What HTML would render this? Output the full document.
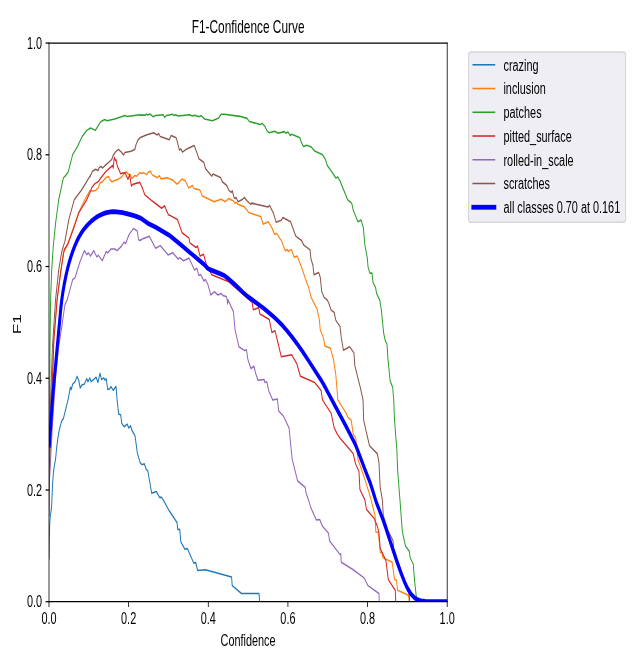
<!DOCTYPE html>
<html><head><meta charset="utf-8"><title>F1-Confidence Curve</title>
<style>html,body{margin:0;padding:0;background:#fff;overflow:hidden}svg{display:block}</style></head>
<body>
<svg width="642" height="669" viewBox="0 0 648 432" preserveAspectRatio="none" version="1.1">
 
 <defs>
  <style type="text/css">*{stroke-linejoin: round; stroke-linecap: butt}</style>
 </defs>
 <g id="figure_1">
  <g id="patch_1">
   <path d="M 0 432 
L 648 432 
L 648 0 
L 0 0 
z
" style="fill: #ffffff"/>
  </g>
  <g id="axes_1">
   <g id="patch_2">
    <path d="M 49.457944 388.541704 
L 451.379439 388.541704 
L 451.379439 27.799103 
L 49.457944 27.799103 
z
" style="fill: #ffffff"/>
   </g>
   <g id="matplotlib.axis_1">
    <g id="xtick_1">
     <g id="line2d_1">
      <defs>
       <path id="mf03662a6c1" d="M 0 0 
L 0 3.5 
" style="stroke: #000000; stroke-width: 0.8"/>
      </defs>
      <g>
       <use href="#mf03662a6c1" x="49.457944" y="388.541704" style="stroke: #000000; stroke-width: 0.8"/>
      </g>
     </g>
     <g id="text_1">
      <text style="font-size: 11px; font-family: 'Liberation Sans', Arial, sans-serif; text-anchor: middle" x="49.4579" y="403.1258">0.0</text>
     </g>
    </g>
    <g id="xtick_2">
     <g id="line2d_2">
      <g>
       <use href="#mf03662a6c1" x="129.842243" y="388.541704" style="stroke: #000000; stroke-width: 0.8"/>
      </g>
     </g>
     <g id="text_2">
      <text style="font-size: 11px; font-family: 'Liberation Sans', Arial, sans-serif; text-anchor: middle" x="129.8422" y="403.1258">0.2</text>
     </g>
    </g>
    <g id="xtick_3">
     <g id="line2d_3">
      <g>
       <use href="#mf03662a6c1" x="210.226542" y="388.541704" style="stroke: #000000; stroke-width: 0.8"/>
      </g>
     </g>
     <g id="text_3">
      <text style="font-size: 11px; font-family: 'Liberation Sans', Arial, sans-serif; text-anchor: middle" x="210.2265" y="403.1258">0.4</text>
     </g>
    </g>
    <g id="xtick_4">
     <g id="line2d_4">
      <g>
       <use href="#mf03662a6c1" x="290.610841" y="388.541704" style="stroke: #000000; stroke-width: 0.8"/>
      </g>
     </g>
     <g id="text_4">
      <text style="font-size: 11px; font-family: 'Liberation Sans', Arial, sans-serif; text-anchor: middle" x="290.6108" y="403.1258">0.6</text>
     </g>
    </g>
    <g id="xtick_5">
     <g id="line2d_5">
      <g>
       <use href="#mf03662a6c1" x="370.99514" y="388.541704" style="stroke: #000000; stroke-width: 0.8"/>
      </g>
     </g>
     <g id="text_5">
      <text style="font-size: 11px; font-family: 'Liberation Sans', Arial, sans-serif; text-anchor: middle" x="370.9951" y="403.1258">0.8</text>
     </g>
    </g>
    <g id="xtick_6">
     <g id="line2d_6">
      <g>
       <use href="#mf03662a6c1" x="451.379439" y="388.541704" style="stroke: #000000; stroke-width: 0.8"/>
      </g>
     </g>
     <g id="text_6">
      <text style="font-size: 11px; font-family: 'Liberation Sans', Arial, sans-serif; text-anchor: middle" x="451.3794" y="403.1258">1.0</text>
     </g>
    </g>
    <g id="text_7">
     <text style="font-size: 11px; font-family: 'Liberation Sans', Arial, sans-serif; text-anchor: middle" x="250.4187" y="417.1862">Confidence</text>
    </g>
   </g>
   <g id="matplotlib.axis_2">
    <g id="ytick_1">
     <g id="line2d_7">
      <defs>
       <path id="mc4beebb164" d="M 0 0 
L -3.5 0 
" style="stroke: #000000; stroke-width: 0.8"/>
      </defs>
      <g>
       <use href="#mc4beebb164" x="49.457944" y="388.541704" style="stroke: #000000; stroke-width: 0.8"/>
      </g>
     </g>
     <g id="text_8">
      <text style="font-size: 11px; font-family: 'Liberation Sans', Arial, sans-serif; text-anchor: end" x="42.4579" y="392.1400">0.0</text>
     </g>
    </g>
    <g id="ytick_2">
     <g id="line2d_8">
      <g>
       <use href="#mc4beebb164" x="49.457944" y="316.393184" style="stroke: #000000; stroke-width: 0.8"/>
      </g>
     </g>
     <g id="text_9">
      <text style="font-size: 11px; font-family: 'Liberation Sans', Arial, sans-serif; text-anchor: end" x="42.4579" y="319.9915">0.2</text>
     </g>
    </g>
    <g id="ytick_3">
     <g id="line2d_9">
      <g>
       <use href="#mc4beebb164" x="49.457944" y="244.244664" style="stroke: #000000; stroke-width: 0.8"/>
      </g>
     </g>
     <g id="text_10">
      <text style="font-size: 11px; font-family: 'Liberation Sans', Arial, sans-serif; text-anchor: end" x="42.4579" y="247.8430">0.4</text>
     </g>
    </g>
    <g id="ytick_4">
     <g id="line2d_10">
      <g>
       <use href="#mc4beebb164" x="49.457944" y="172.096143" style="stroke: #000000; stroke-width: 0.8"/>
      </g>
     </g>
     <g id="text_11">
      <text style="font-size: 11px; font-family: 'Liberation Sans', Arial, sans-serif; text-anchor: end" x="42.4579" y="175.6945">0.6</text>
     </g>
    </g>
    <g id="ytick_5">
     <g id="line2d_11">
      <g>
       <use href="#mc4beebb164" x="49.457944" y="99.947623" style="stroke: #000000; stroke-width: 0.8"/>
      </g>
     </g>
     <g id="text_12">
      <text style="font-size: 11px; font-family: 'Liberation Sans', Arial, sans-serif; text-anchor: end" x="42.4579" y="103.5460">0.8</text>
     </g>
    </g>
    <g id="ytick_6">
     <g id="line2d_12">
      <g>
       <use href="#mc4beebb164" x="49.457944" y="27.799103" style="stroke: #000000; stroke-width: 0.8"/>
      </g>
     </g>
     <g id="text_13">
      <text style="font-size: 11px; font-family: 'Liberation Sans', Arial, sans-serif; text-anchor: end" x="42.4579" y="31.3974">1.0</text>
     </g>
    </g>
    <g id="text_14">
     <text style="font-size: 11px; font-family: 'Liberation Sans', Arial, sans-serif; text-anchor: middle" x="20.8854" y="209.3973" transform="rotate(-90 20.8854 209.3973)">F1</text>
    </g>
   </g>
   <g id="line2d_13">
    <path d="M 49.508411 360.807175 
L 49.760748 348.699552 
L 50.164486 339.013453 
L 50.770093 332.556054 
L 51.375701 330.941704 
L 52.082243 326.90583 
L 52.385047 322.869955 
L 52.990654 313.183857 
L 53.899065 305.112108 
L 55.211215 299.461883 
L 56.018692 297.040359 
L 57.128972 289.29148 
L 58.340187 283.318386 
L 59.95514 277.280717 
L 61.82243 272.825112 
L 62.781308 271.210762 
L 63.956677 270.365869 
L 68.673247 258.094799 
L 71.031531 250.048196 
L 71.817626 251.556934 
L 73.389816 248.036545 
L 75.7481 246.527807 
L 77.791947 243.007418 
L 79.678575 246.024894 
L 80.936326 250.551109 
L 82.822954 248.539458 
L 85.181239 248.036545 
L 87.539523 244.516156 
L 88.797275 246.527807 
L 90.683903 244.013243 
L 91.941654 246.527807 
L 94.614377 245.019069 
L 96.972661 243.510331 
L 98.859289 247.03072 
L 100.903136 240.995767 
L 102.475325 245.019069 
L 104.83361 244.013243 
L 106.091362 245.521981 
L 107.191894 244.516156 
L 108.764084 251.556934 
L 110.807931 251.054021 
L 111.908464 249.545283 
L 114.266748 252.059847 
L 117.09669 249.545283 
L 118.197222 258.094799 
L 119.769412 267.348393 
L 121.813259 267.851305 
L 122.913792 273.383345 
L 125.272076 275.596161 
L 128.416456 273.886258 
L 129.988645 276.400821 
L 131.875273 274.892083 
L 133.133025 277.90956 
L 136.277404 281.429948 
L 138.635689 292.494028 
L 141.308411 298.52898 
L 143.195039 300.037718 
L 145.710542 299.534806 
L 147.59717 303.055195 
L 149.16936 304.06102 
L 153.099834 318.444323 
L 157.816403 317.438498 
L 160.960783 321.160052 
L 163.004629 321.160052 
L 164.891257 322.869955 
L 170.393921 329.40782 
L 178.726526 337.454424 
L 179.355402 341.980638 
L 181.399249 341.779473 
L 182.499782 349.826076 
L 186.587475 354.654038 
L 189.260197 354.251708 
L 195.548956 363.605884 
L 197.592803 363.304136 
L 199.479431 368.333263 
L 207.340379 367.930933 
L 233.753166 372.658313 
L 234.382042 378.190352 
L 242.242991 382.414819 
L 243.81518 383.219479 
L 261.423705 383.219479 
L 262.052581 388.541704 
L 451.379439 388.541704 
" clip-path="url(#pb4455a5697)" style="fill: none; stroke: #1f77b4; stroke-linecap: square"/>
   </g>
   <g id="line2d_14">
    <path d="M 49.492532 302.753447 
L 52.008036 258.094799 
L 54.209101 218.867608 
L 57.667919 193.520808 
L 60.812298 177.427602 
L 63.956677 163.346046 
L 67.887152 158.316919 
L 73.389816 148.258665 
L 78.89248 138.200411 
L 85.967333 128.443904 
L 90.841121 122.992331 
L 93.985501 123.394661 
L 96.501004 122.992331 
L 99.016508 121.38301 
L 100.903136 118.164369 
L 102.789763 117.762038 
L 107.191894 114.543397 
L 109.707398 113.980135 
L 110.96515 116.152718 
L 112.851777 117.359708 
L 119.769412 115.50899 
L 122.913792 114.141067 
L 125.429295 112.129416 
L 127.315923 110.922426 
L 129.831426 112.531746 
L 131.718054 112.773144 
L 132.975806 115.348057 
L 136.120185 113.336407 
L 138.006813 113.738737 
L 141.151192 111.485688 
L 143.03782 111.968484 
L 144.924448 111.485688 
L 148.068827 112.773144 
L 149.326579 111.324756 
L 151.842082 110.520096 
L 153.72871 112.934077 
L 158.759717 114.784795 
L 160.646345 113.336407 
L 162.532972 115.50899 
L 168.821731 114.784795 
L 171.588785 115.589456 
L 174.104289 116.152718 
L 178.883745 118.969029 
L 182.908551 116.152718 
L 184.166303 115.589456 
L 185.424055 116.555048 
L 186.681806 116.31365 
L 190.455062 121.38301 
L 194.228317 119.773689 
L 195.737619 121.78534 
L 201.774827 122.750932 
L 204.290331 126.613302 
L 216.238973 130.234274 
L 223.156608 128.624953 
L 227.558739 130.234274 
L 230.703118 128.222623 
L 235.734125 129.831943 
L 236.991877 131.280332 
L 238.249629 130.636604 
L 240.136256 131.843594 
L 246.425015 133.452915 
L 250.827146 137.073886 
L 252.336449 137.476216 
L 263.467552 140.010896 
L 265.511398 144.738276 
L 270.856843 143.229538 
L 274.47288 147.252839 
L 277.145602 151.276141 
L 279.189449 150.773228 
L 284.377675 155.802355 
L 287.836492 161.837308 
L 290.194777 161.334395 
L 290.980872 162.34022 
L 294.125251 161.13323 
L 296.955193 166.162357 
L 300.099572 165.357697 
L 305.130579 173.907213 
L 308.589396 180.646243 
L 311.419338 185.474205 
L 313.777622 191.509157 
L 315.349812 193.721973 
L 320.066381 199.756926 
L 322.424666 206.797703 
L 323.210761 212.832656 
L 326.35514 217.861783 
L 327.92733 223.393823 
L 333.429994 224.902561 
L 336.574373 231.943339 
L 338.932658 242.001593 
L 340.504848 254.071497 
L 340.976504 258.295964 
L 349.466329 266.84548 
L 351.038519 269.360044 
L 354.497336 271.371694 
L 356.541183 280.424123 
L 358.899467 282.435774 
L 359.685562 285.956163 
L 361.257752 296.51733 
L 366.760416 306.575584 
L 372.26308 317.639663 
L 374.621364 322.869955 
L 378.551839 332.928209 
L 379.337933 343.489376 
L 381.696218 343.791124 
L 382.482313 348.01559 
L 383.740065 356.565106 
L 385.626692 357.068019 
L 386.412787 360.085495 
L 395.845925 363.102971 
L 398.20421 374.167051 
L 400.090838 374.669964 
L 401.348589 381.207829 
L 412.353917 384.42647 
L 412.982793 388.541704 
L 451.379439 388.541704 
" clip-path="url(#pb4455a5697)" style="fill: none; stroke: #ff7f0e; stroke-linecap: square"/>
   </g>
   <g id="line2d_15">
    <path d="M 49.492532 297.72432 
L 50.121408 258.094799 
L 50.435846 223.896735 
L 51.064722 193.520808 
L 52.165255 174.410125 
L 53.737444 159.322744 
L 56.095729 144.235363 
L 59.240108 128.946817 
L 63.956677 114.865261 
L 65.528867 113.859436 
L 68.673247 111.344872 
L 73.389816 99.77788 
L 78.106385 94.748753 
L 82.822954 88.210888 
L 87.539523 84.187586 
L 91.469997 82.678848 
L 96.186567 84.187586 
L 101.689231 78.655547 
L 105.619705 77.146809 
L 107.977989 77.951469 
L 115.838938 76.845061 
L 126.058171 74.632245 
L 128.416456 75.23574 
L 141.308411 74.129332 
L 141.308411 74.330497 
L 146.811075 74.330497 
L 147.59717 73.62642 
L 149.16936 74.330497 
L 151.527644 73.62642 
L 154.672024 75.436905 
L 157.030308 74.632245 
L 164.891257 74.129332 
L 165.99179 75.839236 
L 168.035636 74.632245 
L 174.324395 73.827585 
L 175.582147 74.632245 
L 177.154337 74.129332 
L 179.827059 74.933993 
L 191.618482 74.129332 
L 193.976767 74.933993 
L 196.335051 74.43108 
L 201.05162 75.436905 
L 202.938248 74.632245 
L 206.554284 76.845061 
L 214.415233 77.951469 
L 220.703992 76.140983 
L 223.062276 73.827585 
L 226.206656 73.827585 
L 242.242991 75.135158 
L 242.242991 75.135158 
L 249.317844 76.442731 
L 251.676129 78.454382 
L 262.681457 80.466032 
L 264.568085 79.661372 
L 267.398026 81.673023 
L 269.756311 84.690499 
L 271.800157 85.696325 
L 277.145602 84.690499 
L 280.761639 85.998072 
L 287.050397 84.992247 
L 288.622587 85.998072 
L 290.666434 85.193412 
L 292.867499 87.50681 
L 294.439689 86.70215 
L 302.772295 89.015548 
L 304.344484 92.23419 
L 306.388331 94.547588 
L 309.061053 93.742928 
L 313.777622 94.748753 
L 317.708097 97.565064 
L 325.569045 99.979045 
L 328.398987 102.795356 
L 330.285614 106.818658 
L 334.216089 110.339047 
L 338.932658 114.865261 
L 340.976504 114.362349 
L 343.17757 116.876912 
L 351.038519 129.147982 
L 354.968993 131.159633 
L 356.541183 135.685847 
L 361.257752 143.229538 
L 364.402131 142.022547 
L 366.760416 147.252839 
L 368.332605 158.316919 
L 370.69089 166.363522 
L 371.476985 172.398474 
L 373.363613 176.421776 
L 375.407459 176.220611 
L 376.507992 182.456729 
L 379.023496 185.474205 
L 380.124028 189.497506 
L 383.268408 193.721973 
L 383.268408 193.721973 
L 384.840597 199.756926 
L 387.198882 214.844307 
L 388.771072 219.873434 
L 390.657699 222.387997 
L 391.601013 231.943339 
L 393.802079 246.024894 
L 396.317582 250.048196 
L 397.418115 258.295964 
L 398.20421 271.371694 
L 400.562495 290.482377 
L 401.348589 303.558107 
L 403.706874 322.869955 
L 406.065159 342.986463 
L 409.209538 352.541805 
L 413.140012 356.062194 
L 413.926107 360.085495 
L 417.070487 364.108797 
L 418.642676 376.178702 
L 420.529304 387.242781 
L 421.000961 388.541704 
L 451.379439 388.541704 
" clip-path="url(#pb4455a5697)" style="fill: none; stroke: #2ca02c; stroke-linecap: square"/>
   </g>
   <g id="line2d_16">
    <path d="M 49.492532 302.753447 
L 52.165255 258.094799 
L 54.523539 218.867608 
L 57.667919 193.520808 
L 58.454013 189.497506 
L 61.598393 174.410125 
L 64.742772 161.334395 
L 68.673247 157.311093 
L 74.175911 147.755752 
L 79.678575 137.194585 
L 87.539523 128.946817 
L 90.841121 124.199321 
L 92.727749 120.98068 
L 95.872129 118.566699 
L 99.016508 117.359708 
L 102.160887 114.543397 
L 107.191894 110.520096 
L 112.222902 107.703784 
L 113.732204 106.899124 
L 114.235304 108.508445 
L 115.367281 101.668832 
L 116.625033 103.680483 
L 117.253909 103.278153 
L 118.26011 106.899124 
L 121.65604 112.129416 
L 124.171543 111.727086 
L 126.058171 111.485688 
L 129.20255 115.750388 
L 130.837628 112.934077 
L 132.59848 120.176019 
L 134.233558 118.969029 
L 141.151192 117.762038 
L 143.666696 121.38301 
L 146.182199 125.808642 
L 153.72871 129.831943 
L 163.161848 134.498973 
L 166.306228 132.889653 
L 168.192855 136.269226 
L 170.079483 138.683207 
L 171.588785 139.085537 
L 179.040964 141.7208 
L 183.757533 150.270316 
L 190.832387 153.790704 
L 191.618482 156.808181 
L 197.907241 159.825657 
L 199.479431 158.819832 
L 201.837715 165.357697 
L 205.453751 164.150706 
L 208.126474 170.386824 
L 213.629138 177.427602 
L 230.923225 181.953816 
L 254.50607 195.230711 
L 255.606603 199.958091 
L 261.109267 198.7511 
L 262.367019 202.774402 
L 271.800157 206.294791 
L 274.47288 214.643142 
L 277.617259 213.637316 
L 280.761639 221.885084 
L 283.906018 230.4346 
L 294.439689 229.127027 
L 299.627915 234.960815 
L 303.243951 243.007418 
L 317.708097 247.03072 
L 323.996856 252.059847 
L 325.569045 258.295964 
L 334.216089 266.84548 
L 337.360468 276.400821 
L 340.504848 280.424123 
L 343.17757 282.938687 
L 356.541183 292.996941 
L 358.899467 299.534806 
L 362.358285 304.563933 
L 363.301598 316.130925 
L 368.332605 322.869955 
L 369.904795 328.904908 
L 377.765744 334.93986 
L 380.910123 339.968987 
L 382.482313 343.992289 
L 383.740065 354.050543 
L 389.557167 362.097146 
L 391.915451 374.167051 
L 398.990305 381.207829 
L 399.461962 388.541704 
L 451.379439 388.541704 
" clip-path="url(#pb4455a5697)" style="fill: none; stroke: #d62728; stroke-linecap: square"/>
   </g>
   <g id="line2d_17">
    <path d="M 49.649751 312.811701 
L 52.951349 274.188006 
L 56.095729 244.013243 
L 59.240108 223.896735 
L 62.384488 210.821005 
L 65.528867 196.739449 
L 67.887152 193.520808 
L 73.389816 180.445078 
L 75.7481 179.439252 
L 80.464669 169.380998 
L 85.181239 161.837308 
L 87.539523 164.351871 
L 89.426151 163.346046 
L 91.469997 165.357697 
L 94.614377 161.837308 
L 97.758756 165.860609 
L 99.330946 164.854784 
L 103.26142 168.375173 
L 107.191894 162.34022 
L 108.764084 163.346046 
L 111.908464 160.831482 
L 115.838938 160.831482 
L 118.197222 161.837308 
L 122.127697 159.322744 
L 125.272076 156.305268 
L 126.844266 157.311093 
L 129.988645 151.779054 
L 134.705214 147.554587 
L 138.635689 149.26449 
L 139.736222 154.79653 
L 141.308411 155.299443 
L 143.666696 154.293617 
L 150.741549 152.583714 
L 157.030308 160.32857 
L 161.746877 158.618666 
L 169.607826 164.653619 
L 174.324395 163.144881 
L 179.827059 167.369347 
L 181.399249 166.363522 
L 185.329723 168.375173 
L 190.832387 166.66527 
L 196.335051 174.410125 
L 198.693336 173.203135 
L 200.737182 177.930514 
L 202.62381 177.427602 
L 205.768189 181.450903 
L 207.340379 180.445078 
L 209.698664 183.462554 
L 212.843043 190.503332 
L 216.459079 188.290516 
L 219.917897 190.503332 
L 223.062276 189.497506 
L 225.420561 191.006244 
L 228.56494 191.509157 
L 229.351035 193.721973 
L 229.665473 196.236537 
L 230.13713 193.520808 
L 235.639794 201.265664 
L 237.211984 212.832656 
L 241.142458 223.896735 
L 242.242991 224.399648 
L 246.95956 226.411299 
L 248.846187 225.908386 
L 250.103939 231.943339 
L 253.248319 237.978291 
L 256.392698 236.469553 
L 257.964888 240.995767 
L 260.323172 245.521981 
L 266.611931 245.019069 
L 267.398026 247.03072 
L 269.284654 246.527807 
L 271.3285 252.562759 
L 275.258975 258.295964 
L 279.975544 257.591886 
L 281.233295 265.336742 
L 286.264303 268.857131 
L 291.766967 276.400821 
L 294.911346 296.51733 
L 300.41401 310.598885 
L 307.960521 314.622187 
L 309.061053 318.645488 
L 311.419338 322.869955 
L 313.777622 327.899082 
L 319.280286 335.74452 
L 322.739104 335.442773 
L 325.569045 339.968987 
L 331.543366 344.193454 
L 332.643899 349.222581 
L 343.17757 358.073844 
L 343.963665 357.570932 
L 344.435322 363.102971 
L 355.755088 367.629186 
L 367.546511 373.161225 
L 371.476985 378.190352 
L 382.482313 383.219479 
L 382.796751 388.541704 
L 451.379439 388.541704 
" clip-path="url(#pb4455a5697)" style="fill: none; stroke: #9467bd; stroke-linecap: square"/>
   </g>
   <g id="line2d_18">
    <path d="M 49.492532 332.928209 
L 51.064722 258.094799 
L 52.951349 223.896735 
L 56.095729 193.520808 
L 59.240108 174.410125 
L 62.384488 162.34022 
L 65.528867 155.802355 
L 69.459341 141.7208 
L 74.962005 128.946817 
L 82.036859 122.911865 
L 85.967333 118.888563 
L 90.683903 113.859436 
L 90.841121 114.141067 
L 93.356625 110.520096 
L 96.501004 109.313105 
L 99.016508 110.117765 
L 100.27426 108.106115 
L 102.160887 107.462386 
L 103.418639 108.508445 
L 105.934143 106.899124 
L 109.707398 104.887473 
L 112.851777 102.875822 
L 114.109529 100.461841 
L 116.625033 98.047861 
L 119.517862 96.43854 
L 122.284916 98.047861 
L 124.548869 100.059511 
L 126.058171 98.450191 
L 132.34693 97.64553 
L 136.120185 96.43854 
L 137.377937 93.219899 
L 139.264565 90.403587 
L 141.308411 89.015548 
L 141.308411 89.015548 
L 147.59717 87.205063 
L 155.143681 85.696325 
L 158.602498 87.205063 
L 160.174688 86.199237 
L 161.746877 88.210888 
L 170.865578 90.222539 
L 172.752205 87.50681 
L 177.783213 89.015548 
L 178.50642 90.403587 
L 181.021923 96.84087 
L 182.657001 96.197142 
L 184.166303 98.208793 
L 187.939558 96.43854 
L 196.114945 94.024559 
L 198.630448 98.450191 
L 200.768626 102.473492 
L 205.799633 104.887473 
L 207.43471 108.910775 
L 213.723469 113.738737 
L 214.981221 112.290348 
L 222.527732 114.543397 
L 224.414359 117.359708 
L 228.816491 119.773689 
L 230.703118 122.59 
L 233.218622 124.199321 
L 234.476373 123.233729 
L 236.363001 127.820293 
L 237.620753 128.222623 
L 238.249629 127.417962 
L 240.136256 130.234274 
L 244.538388 128.866351 
L 246.676566 127.417962 
L 249.569395 129.831943 
L 252.336449 131.441264 
L 253.248319 131.964293 
L 254.034413 131.159633 
L 270.542405 133.674196 
L 272.114595 132.668371 
L 276.045069 137.697498 
L 278.717792 143.531285 
L 283.906018 142.223712 
L 285.478208 140.413227 
L 293.339156 143.229538 
L 298.527382 152.483131 
L 304.344484 155.299443 
L 306.702769 158.316919 
L 312.991528 161.334395 
L 313.777622 166.866435 
L 315.821469 171.392649 
L 316.922002 177.427602 
L 321.638571 175.918863 
L 323.210761 178.93634 
L 324.78295 188.491681 
L 327.141235 192.01207 
L 330.285614 193.721973 
L 331.857804 195.733624 
L 334.216089 200.259838 
L 337.360468 201.768576 
L 338.932658 206.797703 
L 343.17757 210.821005 
L 344.435322 217.861783 
L 346.636387 226.109551 
L 352.925146 223.896735 
L 357.327277 227.920037 
L 358.113372 235.96664 
L 363.616036 250.048196 
L 366.445978 258.295964 
L 367.074854 271.371694 
L 369.904795 279.418298 
L 373.049175 287.967814 
L 380.910123 292.996941 
L 382.482313 298.52898 
L 383.740065 314.622187 
L 385.94113 322.869955 
L 386.884444 332.928209 
L 391.915451 342.986463 
L 396.63202 349.021416 
L 397.418115 354.050543 
L 405.279064 369.137924 
L 409.209538 377.184527 
L 413.140012 384.225305 
L 413.45445 388.541704 
L 451.379439 388.541704 
" clip-path="url(#pb4455a5697)" style="fill: none; stroke: #8c564b; stroke-linecap: square"/>
   </g>
   <g id="line2d_19">
    <path d="M 49.80697 287.464901 
L 51.791873 269.344082 
L 53.157714 256.399081 
L 54.409707 247.352419 
L 57.946769 222.802887 
L 61.521496 198.249436 
L 62.469084 193.102295 
L 63.642259 187.965808 
L 65.044714 182.844257 
L 66.647685 177.757436 
L 68.477286 172.707062 
L 70.075666 168.936643 
L 71.864058 165.208536 
L 73.837787 161.545672 
L 76.076352 157.900789 
L 77.745878 155.508559 
L 79.56532 153.186345 
L 81.543658 150.967102 
L 83.790287 148.814709 
L 86.311635 146.736952 
L 89.033072 144.78828 
L 91.902645 143.00342 
L 95.037046 141.305253 
L 98.397656 139.815065 
L 101.934174 138.638131 
L 105.72712 137.623685 
L 107.680718 137.239985 
L 111.644426 136.80622 
L 113.673118 136.698689 
L 117.709864 136.823194 
L 123.729685 137.3518 
L 127.704673 137.873753 
L 133.576624 138.867469 
L 137.454241 139.68828 
L 141.173712 140.67444 
L 142.921636 141.280331 
L 146.240836 142.783083 
L 149.577798 144.286383 
L 153.163285 145.479018 
L 156.791691 146.6352 
L 170.772275 151.833058 
L 183.262509 158.4585 
L 194.067293 164.333155 
L 206.497698 170.98836 
L 209.061169 172.978195 
L 210.681098 173.66306 
L 214.420569 174.772224 
L 222.021853 176.731547 
L 225.709209 177.757613 
L 227.408057 178.403287 
L 230.612425 179.991173 
L 236.653349 183.486105 
L 245.420262 188.883814 
L 249.984429 191.44754 
L 254.879343 193.749833 
L 266.25102 199.170583 
L 272.508632 202.465177 
L 277.072373 205.041384 
L 281.442858 207.730554 
L 285.623436 210.560889 
L 289.61649 213.493562 
L 294.679569 217.538682 
L 299.525985 221.705774 
L 305.358993 227.002518 
L 312.059146 233.49958 
L 324.140667 245.493358 
L 327.187293 248.852868 
L 331.009952 253.428288 
L 337.662571 261.4518 
L 350.1431 276.301411 
L 357.529829 285.545659 
L 359.982663 289.094816 
L 362.920081 293.929254 
L 367.918242 302.43749 
L 373.802855 312.11088 
L 375.706645 315.801849 
L 379.228435 323.253764 
L 381.350205 326.898312 
L 385.751405 334.157787 
L 389.020307 340.295774 
L 400.520814 362.458898 
L 404.635087 369.786289 
L 408.361538 375.8278 
L 410.007063 378.198221 
L 411.865516 380.500096 
L 413.989752 382.740796 
L 415.179053 383.774514 
L 416.487983 384.75008 
L 417.953138 385.695617 
L 419.544255 386.513349 
L 421.253965 387.130424 
L 423.15365 387.632341 
L 425.114727 387.97033 
L 429.118672 388.368194 
L 435.186523 388.52839 
L 451.379439 388.541704 
L 451.379439 388.541704 
" clip-path="url(#pb4455a5697)" style="fill: none; stroke: #0000ff; stroke-width: 3.1; stroke-linecap: square"/>
   </g>
   <g id="patch_3">
    <path d="M 49.457944 388.541704 
L 49.457944 27.799103 
" style="fill: none; stroke: #000000; stroke-width: 0.8; stroke-linejoin: miter; stroke-linecap: square"/>
   </g>
   <g id="patch_4">
    <path d="M 451.379439 388.541704 
L 451.379439 27.799103 
" style="fill: none; stroke: #000000; stroke-width: 0.8; stroke-linejoin: miter; stroke-linecap: square"/>
   </g>
   <g id="patch_5">
    <path d="M 49.457944 388.541704 
L 451.379439 388.541704 
" style="fill: none; stroke: #000000; stroke-width: 0.8; stroke-linejoin: miter; stroke-linecap: square"/>
   </g>
   <g id="patch_6">
    <path d="M 49.457944 27.799103 
L 451.379439 27.799103 
" style="fill: none; stroke: #000000; stroke-width: 0.8; stroke-linejoin: miter; stroke-linecap: square"/>
   </g>
   <g id="text_15">
    <text style="font-size: 12px; font-family: 'Liberation Sans', Arial, sans-serif; text-anchor: middle" x="250.4187" y="20.9991">F1-Confidence Curve</text>
   </g>
   <g id="legend_1">
    <g id="patch_7">
     <path d="M 475.156 143.530 L 629.276 143.530 Q 631.476 143.530 631.476 141.330 L 631.476 35.822 Q 631.476 33.622 629.276 33.622 L 475.156 33.622 Q 472.956 33.622 472.956 35.822 L 472.956 141.330 Q 472.956 143.530 475.156 143.530 z" style="fill: #eaeaf2; opacity: 0.8; stroke: #cccccc; stroke-linejoin: miter"/>
    </g>
    <g id="line2d_20">
     <path d="M 477.356299 41.820666 
L 488.356299 41.820666 
L 499.356299 41.820666 
" style="fill: none; stroke: #1f77b4; stroke-linecap: square"/>
    </g>
    <g id="text_16">
     <text style="font-size: 11px; font-family: 'Liberation Sans', Arial, sans-serif; text-anchor: start" x="508.1563" y="45.6707">crazing</text>
    </g>
    <g id="line2d_21">
     <path d="M 477.356299 57.156728 
L 488.356299 57.156728 
L 499.356299 57.156728 
" style="fill: none; stroke: #ff7f0e; stroke-linecap: square"/>
    </g>
    <g id="text_17">
     <text style="font-size: 11px; font-family: 'Liberation Sans', Arial, sans-serif; text-anchor: start" x="508.1563" y="61.0067">inclusion</text>
    </g>
    <g id="line2d_22">
     <path d="M 477.356299 72.492791 
L 488.356299 72.492791 
L 499.356299 72.492791 
" style="fill: none; stroke: #2ca02c; stroke-linecap: square"/>
    </g>
    <g id="text_18">
     <text style="font-size: 11px; font-family: 'Liberation Sans', Arial, sans-serif; text-anchor: start" x="508.1563" y="76.3428">patches</text>
    </g>
    <g id="line2d_23">
     <path d="M 477.356299 87.828853 
L 488.356299 87.828853 
L 499.356299 87.828853 
" style="fill: none; stroke: #d62728; stroke-linecap: square"/>
    </g>
    <g id="text_19">
     <text style="font-size: 11px; font-family: 'Liberation Sans', Arial, sans-serif; text-anchor: start" x="508.1563" y="91.6789">pitted_surface</text>
    </g>
    <g id="line2d_24">
     <path d="M 477.356299 103.164916 
L 488.356299 103.164916 
L 499.356299 103.164916 
" style="fill: none; stroke: #9467bd; stroke-linecap: square"/>
    </g>
    <g id="text_20">
     <text style="font-size: 11px; font-family: 'Liberation Sans', Arial, sans-serif; text-anchor: start" x="508.1563" y="107.0149">rolled-in_scale</text>
    </g>
    <g id="line2d_25">
     <path d="M 477.356299 118.500978 
L 488.356299 118.500978 
L 499.356299 118.500978 
" style="fill: none; stroke: #8c564b; stroke-linecap: square"/>
    </g>
    <g id="text_21">
     <text style="font-size: 11px; font-family: 'Liberation Sans', Arial, sans-serif; text-anchor: start" x="508.1563" y="122.3510">scratches</text>
    </g>
    <g id="line2d_26">
     <path d="M 477.356299 133.837041 
L 488.356299 133.837041 
L 499.356299 133.837041 
" style="fill: none; stroke: #0000ff; stroke-width: 3.1; stroke-linecap: square"/>
    </g>
    <g id="text_22">
     <text style="font-size: 11px; font-family: 'Liberation Sans', Arial, sans-serif; text-anchor: start" x="508.1563" y="137.6870">all classes 0.70 at 0.161</text>
    </g>
   </g>
  </g>
 </g>
 <defs>
  <clipPath id="pb4455a5697">
   <rect x="49.457944" y="27.799103" width="401.921495" height="360.742601"/>
  </clipPath>
 </defs>
</svg>

</body></html>
